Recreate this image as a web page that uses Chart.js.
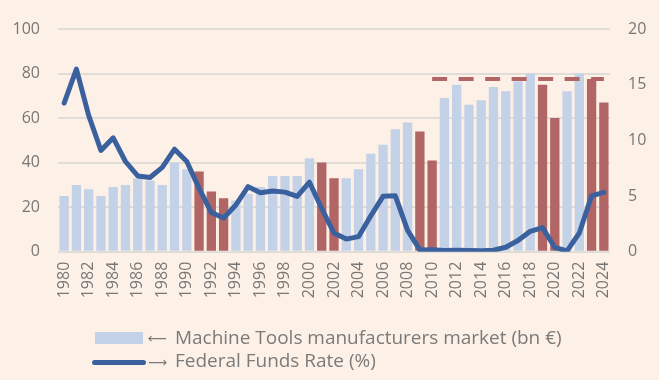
<!DOCTYPE html>
<html><head><meta charset="utf-8">
<script src="https://cdn.jsdelivr.net/npm/chart.js@4"></script>
<style>
html,body{margin:0;padding:0;background:#FDF0E6;}
#wrap{position:relative;width:659px;height:380px;overflow:hidden;}
#c{position:absolute;left:0;top:0;}
.legtxt{position:absolute;left:175px;font-family:"Open Sans",sans-serif;color:#7A7A7A;white-space:nowrap;line-height:1;}
.arrow{position:absolute;left:148px;font-family:"DejaVu Sans",sans-serif;font-weight:normal;color:#7A7A7A;white-space:nowrap;line-height:1;font-size:22px;}
.sw{position:absolute;}
</style></head>
<body>
<div id="wrap">
<canvas id="c" width="659" height="380"></canvas>
<div class="sw" style="left:95px;top:332px;width:48px;height:12px;background:#C4D2E8;"></div>
<div class="sw" style="left:92px;top:359.5px;width:54px;height:5px;border-radius:3px;background:#3A619E;"></div>
<div class="arrow" id="a1">⟵</div>
<div class="arrow" id="a2">⟶</div>
<div class="legtxt" id="l1">Machine Tools manufacturers market (bn €)</div>
<div class="legtxt" id="l2">Federal Funds Rate (%)</div>
</div>
<script>
const years = ["1980","1981","1982","1983","1984","1985","1986","1987","1988","1989","1990","1991","1992","1993","1994","1995","1996","1997","1998","1999","2000","2001","2002","2003","2004","2005","2006","2007","2008","2009","2010","2011","2012","2013","2014","2015","2016","2017","2018","2019","2020","2021","2022","2023","2024"];
const marketValues = [25,30,28,25,29,30,33,32,30,40,37,36,27,24,23,26,29,34,34,34,42,40,33,33,37,44,48,55,58,54,41,69,75,66,68,74,72,76.5,80,75,60,72,80,77.5,67];
const crisisYears = ["1991","1992","1993","2001","2002","2009","2010","2019","2020","2023","2024"];
const fedFundsRate = [13.35,16.39,12.24,9.09,10.23,8.10,6.80,6.66,7.57,9.21,8.10,5.69,3.52,3.02,4.20,5.84,5.30,5.46,5.35,4.97,6.24,3.88,1.67,1.13,1.35,3.22,4.97,5.02,1.92,0.16,0.18,0.10,0.14,0.11,0.09,0.13,0.40,1.00,1.83,2.16,0.38,0.08,1.68,5.02,5.33];
const peakLevel = [null,null,null,null,null,null,null,null,null,null,null,null,null,null,null,null,null,null,null,null,null,null,null,null,null,null,null,null,null,null,77.5,77.5,77.5,77.5,77.5,77.5,77.5,77.5,77.5,77.5,77.5,77.5,77.5,77.5,77.5];
const leftTicks = [0,20,40,60,80,100];
const rightTicks = [0,5,10,15,20];

const textColor = '#777777';
const tickFont = {family:'"Open Sans", sans-serif', size:16};

// legend font sizing
(function(){
  const cv = document.createElement('canvas').getContext('2d');
  let size = 20;
  cv.font = size + 'px "Open Sans"';
  const w = cv.measureText(document.getElementById('l1').textContent).width;
  size = size * 387 / w;
  const l1 = document.getElementById('l1'), l2 = document.getElementById('l2');
  l1.style.fontSize = size + 'px'; l2.style.fontSize = size + 'px';
  l1.style.top = (338 - size*0.55) + 'px';
  l2.style.top = (361.5 - size*0.55) + 'px';
  cv.font = '22px "DejaVu Sans"';
  const aw = cv.measureText('⟵').width;
  const as = 22 * 19 / aw;
  const a1 = document.getElementById('a1'), a2 = document.getElementById('a2');
  a1.style.fontSize = as + 'px'; a2.style.fontSize = as + 'px';
  a1.style.top = (340 - as*0.6) + 'px';
  a2.style.top = (363.5 - as*0.6) + 'px';
})();

new Chart(document.getElementById('c'), {
  data: {
    labels: years,
    datasets: [
      {
        type:'line', label:'Federal Funds Rate (%)', data: fedFundsRate, yAxisID:'y1',
        borderColor:'#3A619E', borderWidth:5, pointRadius:0, tension:0, order:0,
        borderJoinStyle:'round', borderCapStyle:'round'
      },
      {
        type:'line', label:'level', data: peakLevel, yAxisID:'y',
        borderColor:'#B26565', borderWidth:4, borderDash:[15,11.5], pointRadius:0, order:1,
        borderCapStyle:'butt', spanGaps:false
      },
      {
        type:'bar', label:'Machine Tools manufacturers market (bn €)', data: marketValues, yAxisID:'y',
        backgroundColor: years.map(y => crisisYears.includes(y) ? '#B26565' : '#C4D2E8'),
        barPercentage:0.76, categoryPercentage:1, order:2
      }
    ]
  },
  options: {
    responsive:false, animation:false,
    layout:{padding:{left:0,right:0,top:29,bottom:68.3}},
    plugins:{legend:{display:false}, tooltip:{enabled:false}},
    scales:{
      x:{
        grid:{display:false, drawTicks:false},
        border:{display:false},
        ticks:{autoSkip:false, minRotation:90, maxRotation:90, padding:10, color:textColor, font:tickFont,
          callback:function(v,i){ return i%2===0 ? this.getLabelForValue(v) : ''; }},
        afterFit:(s)=>{ s.height = 60; }
      },
      y:{
        position:'left', min:0, max:100,
        afterBuildTicks:(s)=>{ s.ticks = leftTicks.map(v=>({value:v})); },
        grid:{color:'#E0DCD8', lineWidth:2, drawTicks:false},
        border:{display:false},
        ticks:{padding:18, color:textColor, font:tickFont},
        afterFit:(s)=>{ s.width = 58; }
      },
      y1:{
        position:'right', min:0, max:20,
        afterBuildTicks:(s)=>{ s.ticks = rightTicks.map(v=>({value:v})); },
        grid:{display:false, drawTicks:false},
        border:{display:false},
        ticks:{padding:18, color:textColor, font:tickFont},
        afterFit:(s)=>{ s.width = 49; }
      }
    }
  }
});
</script>
</body></html>
